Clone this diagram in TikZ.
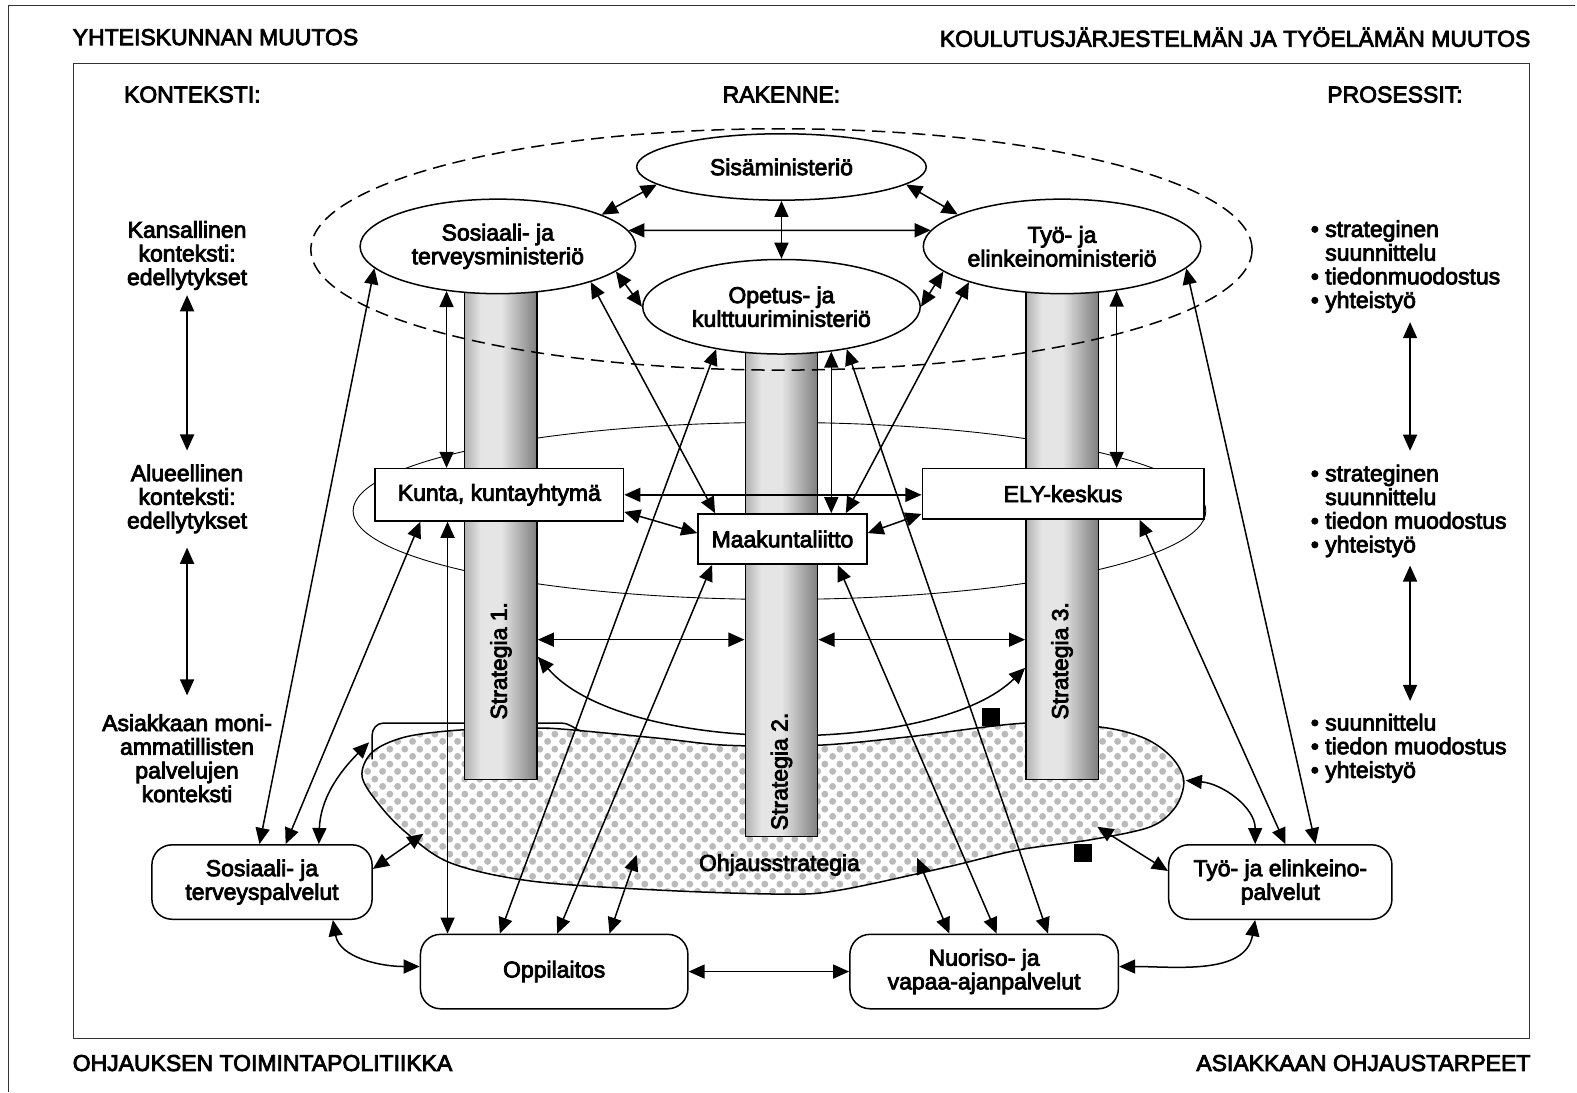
\documentclass[tikz,border=0pt]{standalone}
\usepackage{fontspec}
\setmainfont{Liberation Sans}[FakeBold=3.5]
\usetikzlibrary{arrows.meta,shapes.geometric,patterns}
\pgfdeclarelayer{bg}
\pgfsetlayers{bg,main}
\pgfdeclarepatternformonly{bigdots}{\pgfpointorigin}{\pgfpoint{8.6pt}{8.6pt}}{\pgfpoint{8.6pt}{8.6pt}}{%
  \pgfpathcircle{\pgfpoint{2.15pt}{2.15pt}}{2.05pt}%
  \pgfpathcircle{\pgfpoint{6.45pt}{6.45pt}}{2.05pt}%
  \pgfusepath{fill}}
\pgfdeclarehorizontalshading{pillarshade}{100bp}{color(0bp)=(black!75); color(12bp)=(black!55); color(36bp)=(black!10); color(50bp)=(black!10); color(76bp)=(black!52); color(100bp)=(black!80)}
\newcommand\dfont{\fontsize{13}{13.4}\selectfont}
\begin{document}
\begin{tikzpicture}[x=0.02cm,y=-0.02cm,font=\dfont,
  >={Triangle[length=0.32cm,width=0.28cm]},
  dbl/.style={<->,line width=0.85pt},
  ell/.style={ellipse,draw,line width=0.85pt,fill=white,inner sep=0pt,align=center},
  rbox/.style={rectangle,draw,line width=0.85pt,fill=white,inner sep=0pt,align=center},
  rrbox/.style={rbox,rounded corners=0.4cm},
  pillar/.style={rectangle,draw,line width=0.85pt,shading=pillarshade,inner sep=0pt,minimum width=1.44cm},
  lbl/.style={inner sep=0pt,align=center},
  sqr/.style={fill=black,inner sep=0pt,minimum size=0.36cm},
  frm/.style={line width=0.6pt,black!80}]

\useasboundingbox (0,0) rectangle (1568,1086);

% frames
\draw[frm] (8,1086) -- (8,5) -- (1566,5);
\draw[frm] (73,63) rectangle (1521,1033);

% titles
\node[anchor=west,inner sep=0pt] (t1) at (72,37) {YHTEISKUNNAN MUUTOS};
\node[anchor=east,inner sep=0pt] (t2) at (1522,37) {KOULUTUSJÄRJESTELMÄN JA TYÖELÄMÄN MUUTOS};
\node[anchor=west,inner sep=0pt] (t3) at (123,94) {KONTEKSTI:};
\node[inner sep=0pt] (t4) at (777,94) {RAKENNE:};
\node[inner sep=0pt] (t5) at (1387,94) {PROSESSIT:};
\node[anchor=west,inner sep=0pt] (t6) at (72,1057) {OHJAUKSEN TOIMINTAPOLITIIKKA};
\node[anchor=east,inner sep=0pt] (t7) at (1522,1057) {ASIAKKAAN OHJAUSTARPEET};

% left column
\node[lbl] (kans) at (186,254) {Kansallinen\\konteksti:\\edellytykset};
\node[lbl] (alue) at (186,496) {Alueellinen\\konteksti:\\edellytykset};
\node[lbl] (asia) at (186,754) {Asiakkaan moni-\\ammatillisten\\palvelujen\\konteksti};
\draw[dbl,shorten <=0.1cm,shorten >=0.27cm] (kans) -- (alue);
\draw[dbl,shorten <=0.28cm,shorten >=0.37cm] (alue) -- (asia);

% right column
\node[lbl,align=left,anchor=west] (g1) at (1303,265) {• strateginen\\\phantom{• }suunnittelu\\• tiedonmuodostus\\• yhteistyö};
\node[lbl,align=left,anchor=west] (g2) at (1303,508) {• strateginen\\\phantom{• }suunnittelu\\• tiedon muodostus\\• yhteistyö};
\node[lbl,align=left,anchor=west] (g3) at (1303,744) {• suunnittelu\\• tiedon muodostus\\• yhteistyö};
\coordinate (rx) at (1402,0);
\draw[dbl,shorten <=0.18cm,shorten >=0.27cm] (g1.south -| rx) -- (g2.north -| rx);
\draw[dbl,shorten <=0.16cm,shorten >=0.25cm] (g2.south -| rx) -- (g3.north -| rx);

% pillars
\node[pillar,minimum height=10.1cm] (p1) at (498,522.5) {};
\node[pillar,minimum height=10.04cm] (p2) at (777,581) {};
\node[pillar,minimum height=10.1cm] (p3) at (1056,522.5) {};

\begin{pgfonlayer}{bg}
  % regional thin ellipse
  \draw[line width=0.5pt] (775,508) ellipse [x radius=8.48cm, y radius=1.76cm];
  % guidance strategy blob
  \draw[line width=0.85pt,preaction={fill=white},pattern=bigdots,pattern color=black!27]
    plot[smooth cycle,tension=0.55] coordinates {(360,772) (370,748) (402,733) (455,726) (525,724) (560,725) (655,734) (723,741) (813,741) (900,733) (1019,719) (1095,723) (1138,734) (1165,753) (1177,776) (1169,802) (1144,822) (1084,835) (1013,845) (942,862) (835,885) (780,889) (655,885) (528,876) (448,858) (404,828) (377,800)};
  \draw[line width=0.85pt] (370,755) -- (370,731) to[out=90,in=180] (381,719) -- (558,719) to[out=0,in=160] (578,727);
  % curved strategy arrow
  \draw[dbl] (p1.east |- 0,653) .. controls (620,752) and (930,752) .. (p3.west |- 0,664);
\end{pgfonlayer}

\node[lbl] (ohj) at (775,860) {Ohjausstrategia};
\node[sqr] (sq1) at (985,712.5) {};
\node[sqr] (sq2) at (1077,848) {};

% dashed national ellipse
\draw[line width=0.85pt,dash pattern=on 0.26cm off 0.14cm] (777,248) ellipse [x radius=9.36cm, y radius=2.4cm];

% strategy labels
\node[rotate=90] (s1) at (498,657) {Strategia 1.};
\node[rotate=90] (s2) at (777,767) {Strategia 2.};
\node[rotate=90] (s3) at (1056,657) {Strategia 3.};

% ministries
\node[ell,minimum width=5.76cm,minimum height=1.32cm] (sisa) at (777,166) {Sisäministeriö};
\node[ell,minimum width=5.48cm,minimum height=1.88cm] (sosm) at (495,245) {Sosiaali- ja\\terveysministeriö};
\node[ell,minimum width=5.52cm,minimum height=1.88cm] (tyom) at (1056,245) {Työ- ja\\elinkeinoministeriö};
\node[ell,minimum width=5.52cm,minimum height=1.88cm] (opm) at (777,305) {Opetus- ja\\kulttuuriministeriö};

% regional boxes
\node[rbox,minimum width=4.94cm,minimum height=1.04cm] (kunta) at (496.5,492) {Kunta, kuntayhtymä};
\node[rbox,minimum width=5.6cm,minimum height=1.0cm] (ely) at (1057,491) {ELY-keskus};
\node[rbox,minimum width=3.36cm,minimum height=1.0cm] (maak) at (778,536) {Maakuntaliitto};

% services
\node[rrbox,minimum width=4.38cm,minimum height=1.48cm] (sosp) at (260.5,877) {Sosiaali- ja\\terveyspalvelut};
\node[rrbox,minimum width=5.32cm,minimum height=1.48cm] (oppi) at (551,966) {Oppilaitos};
\node[rrbox,minimum width=5.34cm,minimum height=1.48cm] (nuor) at (978.5,966) {Nuoriso- ja\\vapaa-ajanpalvelut};
\node[rrbox,minimum width=4.44cm,minimum height=1.48cm] (tyop) at (1273,877) {Työ- ja elinkeino-\\palvelut};

% blob contact points
\coordinate (bA) at (367,738);
\coordinate (bB) at (421,829);
\coordinate (bC) at (633,850);
\coordinate (bD) at (912,853);
\coordinate (bE) at (1091,822);
\coordinate (bF) at (1179,776);

% ministry arrows
\draw[dbl] (sisa.188) -- (sosm.17);
\draw[dbl] (sisa.-8) -- (tyom.163);
\draw[dbl] (sosm.7) -- (tyom.173);
\draw[dbl] (sisa.south) -- (opm.north);
\draw[dbl] (sosm.-12) -- (opm.180);
\draw[dbl] (tyom.192) -- (opm.0);

% ministries to regional level
\draw[dbl] (sosm.-139) -- (sosm.-139 |- kunta.north);
\draw[dbl] (tyom.-39) -- (tyom.-39 |- ely.north);
\draw[dbl] (opm.-42) -- (opm.-42 |- maak.north);
\draw[dbl] (sosm.-21) -- (maak.north -| 711,0);
\draw[dbl] (tyom.201) -- (maak.north -| 841,0);

% regional
\draw[dbl] (kunta.east) -- (kunta.east -| ely.west);
\draw[dbl] ([yshift=-0.34cm]kunta.east) -- ([yshift=0.12cm]maak.west);
\draw[dbl] ([yshift=-0.4cm]ely.west) -- ([yshift=0.12cm]maak.east);

% to services
\draw[dbl] (sosm.-170) -- (sosp.north -| 258,0);
\draw[dbl] (kunta.south -| 418,0) -- (sosp.north -| 284,0);
\draw[dbl] (kunta.south -| 445,0) -- (oppi.north -| 445,0);
\draw[dbl] (opm.-147) -- (oppi.north -| 497,0);
\draw[dbl] (maak.south -| 708,0) -- (oppi.north -| 554,0);
\draw[dbl] (maak.south -| 833,0) -- (nuor.north -| 991,0);
\draw[dbl] (opm.-33) -- (nuor.north -| 1042,0);
\draw[dbl] (ely.south -| 1133,0) -- (tyop.north -| 1278,0);
\draw[dbl] (tyom.-10) -- (tyop.north -| 1308,0);

% blob arrows
\draw[dbl] (sosp.north -| 317,0) to[out=88,in=-135] (bA);
\draw[dbl] ([yshift=0.26cm]sosp.east) -- (bB);
\draw[dbl] (oppi.north -| 606,0) -- (bC);
\draw[dbl] (nuor.north -| 944,0) -- (bD);
\draw[dbl] ([yshift=0.22cm]tyop.west) -- (bE);
\draw[dbl] (bF) to[out=-5,in=90] (tyop.north -| 1248,0);

% service level
\draw[dbl] (oppi.east) -- (nuor.west);
\draw[dbl] (sosp.south -| 331,0) to[out=-80,in=180] ([yshift=0.1cm]oppi.west);
\draw[dbl] (tyop.south -| 1248,0) to[out=-100,in=0] ([yshift=0.1cm]nuor.east);

% strategies
\draw[dbl] (p1.east |- 0,636) -- (p2.west |- 0,636);
\draw[dbl] (p2.east |- 0,636) -- (p3.west |- 0,636);
\end{tikzpicture}
\end{document}
